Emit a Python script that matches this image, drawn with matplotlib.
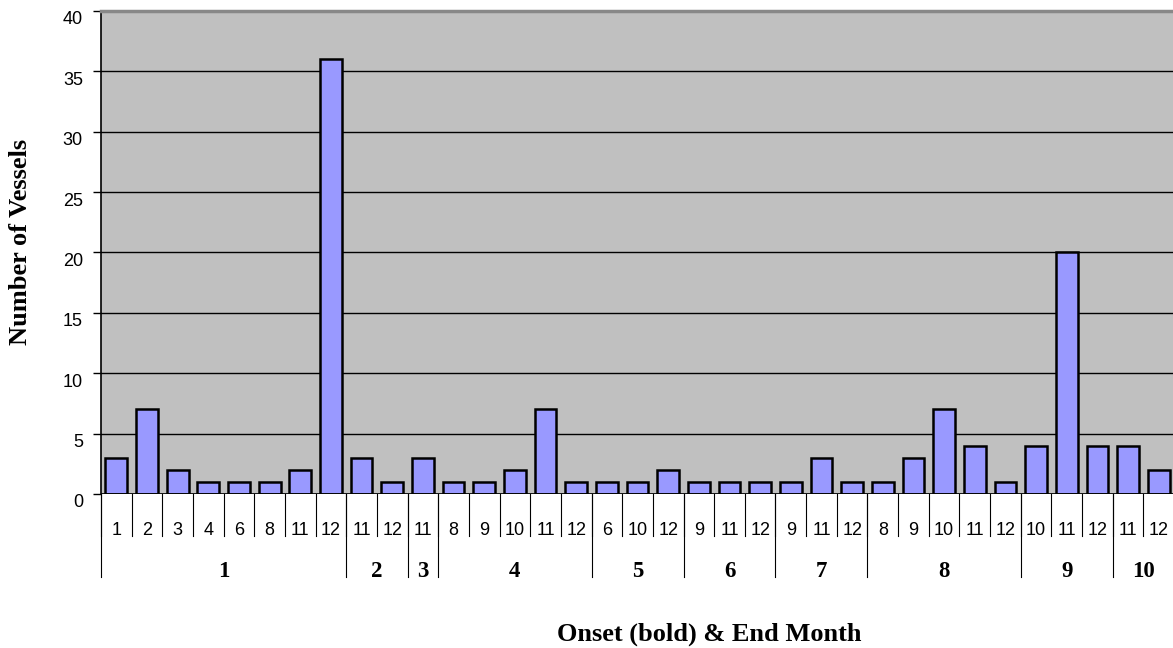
import matplotlib.pyplot as plt
import matplotlib.transforms as mtransforms
import numpy as np

# onset month groups and their end months / vessel counts
onset = ['1', '2', '3', '4', '5', '6', '7', '8', '9', '10']
end_months = [
    ['1', '2', '3', '4', '6', '8', '11', '12'],
    ['11', '12'],
    ['11'],
    ['8', '9', '10', '11', '12'],
    ['6', '10', '12'],
    ['9', '11', '12'],
    ['9', '11', '12'],
    ['8', '9', '10', '11', '12'],
    ['10', '11', '12'],
    ['11', '12'],
]
counts = [
    [3, 7, 2, 1, 1, 1, 2, 36],
    [3, 1],
    [3],
    [1, 1, 2, 7, 1],
    [1, 1, 2],
    [1, 1, 1],
    [1, 3, 1],
    [1, 3, 7, 4, 1],
    [4, 20, 4],
    [4, 2],
]

labels = [m for g in end_months for m in g]
values = [v for g in counts for v in g]
n = len(values)
x = np.arange(n)

fig = plt.figure(figsize=(11.73, 6.48), dpi=100)
ax = fig.add_axes([0.0861, 0.2377, 0.9148, 0.7454])
ax.set_facecolor('#C0C0C0')

ax.bar(x, values, width=0.71, color='#9999FF', edgecolor='black', linewidth=1.8, zorder=3)

ax.set_xlim(-0.5, n - 0.5)
ax.set_ylim(0, 40)
ax.set_yticks(np.arange(0, 41, 5))
ax.yaxis.grid(True, color='black', linewidth=1.0, zorder=1)
ax.tick_params(axis='y', length=6, width=1, pad=7, labelsize=13)
shift = mtransforms.ScaledTranslation(0, -7 / 100, fig.dpi_scale_trans)
for lbl in ax.get_yticklabels():
    lbl.set_fontfamily('Liberation Sans')
    lbl.set_transform(lbl.get_transform() + shift)
ax.set_xticks([])

for s in ['right', 'bottom']:
    ax.spines[s].set_visible(False)
ax.spines['left'].set_linewidth(1.2)
ax.spines['top'].set_color('#888888')
ax.spines['top'].set_linewidth(2.5)
ax.axhline(0, color='black', linewidth=1.2, zorder=4)

trans = mtransforms.blended_transform_factory(ax.transData, ax.transAxes)
ax_h = 0.7454 * 648

# inner separators and end-month labels
for i in range(n + 1):
    ax.plot([i - 0.5, i - 0.5], [0, -42 / ax_h], transform=trans, color='black',
            linewidth=0.8, clip_on=False)
for i, lab in enumerate(labels):
    ax.text(i, -37 / ax_h, lab, transform=trans, ha='center', va='center',
            fontsize=13, family='Liberation Sans')

# group separators and onset labels
start = 0
for g, grp in zip(onset, end_months):
    stop = start + len(grp)
    ax.plot([start - 0.5, start - 0.5], [0, -83 / ax_h], transform=trans, color='black',
            linewidth=0.8, clip_on=False)
    ax.text((start + stop - 1) / 2, -78 / ax_h, g, transform=trans, ha='center', va='center',
            fontsize=16.5, fontweight='bold', family='Liberation Serif')
    start = stop

fig.text(709 / 1173, 1 - 634 / 648, 'Onset (bold) & End Month', ha='center', va='center',
         fontsize=19, fontweight='bold', family='Liberation Serif')
fig.text(21 / 1173, 1 - 242 / 648, 'Number of Vessels', ha='center', va='center',
         rotation=90, fontsize=19, fontweight='bold', family='Liberation Serif')

fig.savefig('out.png', dpi=100)
